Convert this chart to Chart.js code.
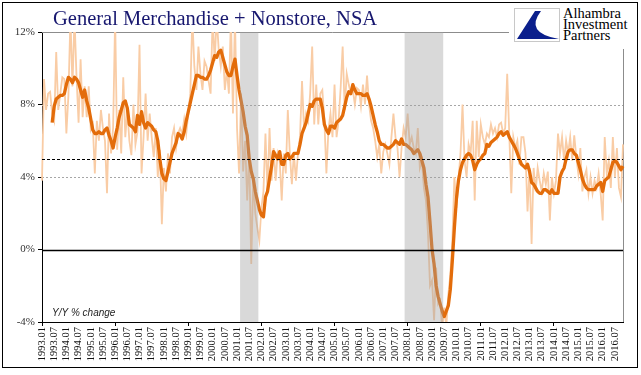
<!DOCTYPE html>
<html>
<head>
<meta charset="utf-8">
<script src="https://cdn.jsdelivr.net/npm/chart.js@4/dist/chart.umd.min.js"></script>
<style>
  body { margin: 0; background: #fff; }
  #wrap { position: relative; width: 641px; height: 375px; }
  #frame { position: absolute; left: 2px; top: 2px; width: 634px; height: 364px; border: 1px solid #000; pointer-events: none; }
  #title { position: absolute; left: 53px; top: 8px; font: 20.5px/20px "Liberation Serif", serif; color: #17176f; white-space: nowrap; }
  #logo { position: absolute; left: 509px; top: 4px; width: 126px; height: 45px; background: #fff; }
  #logo svg { position: absolute; left: 5px; top: 4px; }
  #logo .txt { position: absolute; left: 54px; top: 4px; font: 14.5px/11px "Liberation Serif", serif; color: #000; }
</style>
</head>
<body>
<div id="wrap">
  <canvas id="c" width="641" height="375"></canvas>
  <div id="title">General Merchandise + Nonstore, NSA</div>
  <div id="logo">
    <svg width="46" height="34" viewBox="0 0 46 34">
      <rect x="0.5" y="0.5" width="45" height="33" fill="#fff" stroke="#c8c8c8"/>
      <path d="M3 31 L21 3 L27 3 Q10 25 45 31 Z" fill="#0b1f8c"/>
    </svg>
    <div class="txt">Alhambra<br>Investment<br>Partners</div>
  </div>
  <div id="frame"></div>
</div>
<script>
// monthly, 1993.01 .. 2016.11
const firstYear = 1993;
const monthCount = 287;

// y/y % change, one row per year
const yoy = [
  3.8, 9.4, 7.7, 8.6, 8.7, 7.5, 7.1, 10.9, 7.7, 8.6, 9.5, 9.4,
  6.4, 8.5, 12.8, 9.0, 12.8, 9.5, 7.0, 10.5, 7.3, 9.0, 7.3, 9.0,
  6.6, 6.9, 4.2, 7.1, 6.0, 7.7, 6.7, 6.0, 3.1, 7.5, 5.3, 6.7,
  12.8, 5.5, 7.7, 5.3, 9.5, 6.2, 7.7, 6.0, 5.2, 8.0, 5.8, 6.5,
  11.3, 4.2, 6.2, 8.6, 6.0, 7.5, 6.2, 5.1, 6.7, 4.0, 5.5, 1.4,
  4.5, 3.2, 5.3, 4.2, 6.2, 6.7, 5.6, 6.4, 6.7, 6.4, 7.2, 6.4,
  7.5, 8.6, 12.8, 10.1, 8.8, 11.2, 9.7, 8.8, 10.4, 10.1, 9.3, 8.6,
  12.8, 10.4, 12.8, 11.0, 10.1, 11.2, 8.8, 9.9, 8.6, 12.8, 7.5, 12.8,
  6.7, 4.2, 8.6, 4.3, 6.0, 2.7, 5.3, -0.8, 4.0, 2.0, 1.2, 0.5,
  2.3, 3.2, 6.4, 3.1, 6.7, 3.8, 5.6, 3.8, 5.3, 4.9, 2.7, 5.3,
  4.2, 7.7, 5.3, 3.6, 5.3, 3.8, 5.3, 6.2, 9.3, 6.6, 7.5, 7.1,
  8.6, 11.2, 6.9, 9.1, 6.9, 8.6, 8.8, 7.1, 4.2, 6.6, 7.5, 6.2,
  9.1, 6.2, 7.1, 8.9, 11.2, 7.7, 9.7, 9.1, 8.6, 8.8, 8.0, 8.9,
  8.8, 7.9, 9.1, 8.0, 9.6, 8.0, 7.1, 6.7, 6.0, 5.1, 5.8, 4.2,
  5.4, 5.8, 5.3, 4.7, 6.2, 7.5, 6.2, 5.6, 4.0, 5.6, 6.7, 6.2,
  7.5, 5.8, 6.2, 5.6, 5.3, 6.7, 4.5, 4.9, 3.4, 2.7, 0.9, -2.0,
  -1.7, -3.9, -1.0, -3.0, -2.8, -4.4, -3.2, -4.3, -2.5, -1.4, 0.5, 4.0,
  2.3, 3.8, 5.3, 8.0, 4.9, 4.0, 5.8, 5.3, 7.1, 2.7, 7.1, 5.1,
  6.9, 6.2, 5.8, 6.4, 6.2, 6.9, 6.4, 6.7, 6.2, 6.9, 7.0, 6.4,
  6.7, 9.7, 6.4, 3.1, 6.2, 5.6, 6.0, 4.7, 6.2, 6.2, 5.3, 2.1,
  4.5, 0.3, 4.5, 3.2, 4.5, 3.8, 3.2, 4.2, 3.6, 4.3, 1.6, 4.0,
  3.1, 3.8, 6.4, 5.3, 6.2, 4.9, 6.0, 5.3, 6.2, 4.9, 6.3, 5.1,
  4.2, 5.6, 3.2, 4.0, 4.4, 3.1, 4.0, 3.1, 3.8, 3.4, 4.2, 3.1,
  1.6, 6.2, 4.2, 4.9, 3.4, 6.2, 4.0, 5.6, 3.4, 2.9, 5.8
];

// smoothed line
const avg = [
  null, null, null, null, null, 7.0, 7.9, 8.3, 8.4, 8.5, 8.5, 8.6,
  9.1, 9.5, 9.4, 9.2, 9.5, 9.4, 9.2, 8.8, 8.4, 8.8, 8.2, 7.8,
  7.2, 6.6, 6.4, 6.4, 6.5, 6.4, 6.4, 6.6, 6.7, 6.3, 6.0, 5.6,
  6.2, 6.7, 7.3, 7.7, 8.1, 8.2, 7.8, 6.9, 6.8, 6.7, 6.5, 7.4,
  6.9, 7.6, 7.0, 6.7, 7.0, 6.9, 6.8, 6.6, 6.5, 6.0, 5.0, 4.2,
  3.9, 3.8, 4.3, 4.8, 5.3, 5.6, 5.9, 6.4, 6.3, 6.1, 6.5, 7.1,
  7.6, 8.1, 8.6, 9.1, 9.6, 9.6, 9.5, 9.5, 9.4, 9.4, 9.6, 9.9,
  10.3, 10.7, 10.6, 10.9, 11.0, 10.6, 10.2, 9.8, 9.6, 9.6, 10.1, 10.5,
  9.6, 8.8, 8.2, 7.6, 6.8, 6.3, 5.0, 4.3, 3.9, 3.2, 2.7, 2.2,
  1.9, 1.8, 2.9, 3.2, 3.9, 4.6, 5.4, 5.2, 5.0, 5.4, 4.7, 4.7,
  5.2, 5.3, 5.0, 5.1, 5.3, 5.3, 5.3, 5.8, 6.4, 6.7, 7.0, 7.5,
  8.0, 7.9, 8.2, 8.3, 8.3, 8.3, 7.8, 6.9, 6.6, 6.4, 6.8, 6.8,
  6.7, 7.0, 7.1, 7.2, 7.4, 7.9, 8.4, 8.7, 8.6, 9.1, 8.8, 8.6,
  8.6, 8.6, 8.5, 8.5, 8.6, 8.3, 7.9, 7.4, 6.9, 6.5, 6.0, 5.8,
  5.8, 5.7, 5.6, 5.6, 5.7, 5.8, 6.0, 5.9, 5.8, 6.1, 5.8, 5.8,
  5.7, 5.6, 5.5, 5.3, 5.4, 5.5, 5.3, 4.9, 4.5, 3.6, 2.9, 1.5,
  0.0, -0.8, -2.0, -2.6, -3.0, -3.4, -3.7, -3.4, -3.1, -2.2, -0.6, 1.2,
  2.8, 3.8, 4.4, 4.8, 5.0, 5.2, 5.3, 5.2, 4.9, 4.4, 4.7, 4.9,
  5.0, 5.2, 5.3, 5.8, 5.7, 5.9, 6.0, 6.1, 6.2, 6.4, 6.5, 6.3,
  6.4, 6.5, 6.2, 6.0, 5.8, 5.6, 5.3, 5.0, 4.7, 4.6, 4.5, 4.7,
  4.3, 3.7, 3.6, 3.4, 3.2, 3.1, 3.1, 3.3, 3.3, 3.2, 3.1, 3.3,
  3.1, 3.1, 3.1, 4.0, 4.3, 4.5, 5.0, 5.4, 5.5, 5.5, 5.3, 5.2,
  4.8, 4.4, 3.9, 3.6, 3.4, 3.3, 3.3, 3.3, 3.3, 3.5, 3.6, 3.7,
  3.2, 3.8, 3.9, 4.0, 4.4, 4.8, 4.9, 4.8, 4.6, 4.4, 4.6
];

const recessions = [['2001.03', '2001.11'], ['2007.12', '2009.06']];
const dashedGrid = [4, 8];
const yTicks = [-4, 0, 4, 8, 12];
const refLine = 5;

let months = [];
for (let k = 0; k < monthCount; k++) {
  let y = firstYear + Math.floor(k / 12);
  let m = k % 12 + 1;
  months.push(y + '.' + (m < 10 ? '0' + m : m));
}

const decor = {
  id: 'decor',
  beforeDatasetsDraw(chart) {
    const {ctx, chartArea: a, scales: {y}} = chart;
    ctx.save();
    ctx.lineWidth = 1;
    ctx.strokeStyle = '#a6a6a6';
    ctx.setLineDash([2, 2]);
    dashedGrid.forEach(v => {
      let py = Math.round(y.getPixelForValue(v)) + 0.5;
      ctx.beginPath(); ctx.moveTo(a.left, py); ctx.lineTo(a.right, py); ctx.stroke();
    });
    ctx.setLineDash([]);
    ctx.strokeStyle = '#8c8c8c';
    let top = Math.round(y.getPixelForValue(yTicks[yTicks.length - 1])) + 0.5;
    ctx.beginPath(); ctx.moveTo(a.left, top); ctx.lineTo(a.right + 0.5, top); ctx.lineTo(a.right + 0.5, a.bottom); ctx.stroke();
    ctx.restore();
  },
  afterDatasetsDraw(chart) {
    const {ctx, chartArea: a, scales: {x, y}} = chart;
    ctx.save();
    ctx.fillStyle = 'rgba(160,160,160,0.4)';
    recessions.forEach(([s, e]) => {
      let x0 = x.getPixelForValue(months.indexOf(s) - 0.5);
      let x1 = x.getPixelForValue(months.indexOf(e) + 0.5);
      ctx.fillRect(x0, a.top, x1 - x0, a.bottom - a.top);
    });
    ctx.strokeStyle = '#000';
    ctx.lineWidth = 1.3;
    let zero = Math.round(y.getPixelForValue(0)) + 0.5;
    ctx.beginPath(); ctx.moveTo(a.left, zero); ctx.lineTo(a.right, zero); ctx.stroke();
    ctx.lineWidth = 1;
    ctx.setLineDash([3, 2]);
    let five = Math.round(y.getPixelForValue(refLine)) + 0.5;
    ctx.beginPath(); ctx.moveTo(a.left, five); ctx.lineTo(a.right, five); ctx.stroke();
    ctx.setLineDash([]);
    ctx.fillStyle = '#222';
    ctx.font = 'italic 10px "Liberation Sans", sans-serif';
    ctx.textBaseline = 'alphabetic';
    ctx.fillText('Y/Y % change', a.left + 10, a.bottom - 6);
    ctx.restore();
  }
};

new Chart(document.getElementById('c'), {
  type: 'line',
  data: {
    labels: months,
    datasets: [
      {
        data: avg,
        borderColor: '#e36c0a',
        borderWidth: 3.3,
        pointRadius: 0,
        tension: 0,
        borderJoinStyle: 'round'
      },
      {
        data: yoy,
        borderColor: '#f9cca5',
        borderWidth: 1.8,
        pointRadius: 0,
        tension: 0
      }
    ]
  },
  options: {
    responsive: false,
    animation: false,
    events: [],
    layout: { padding: { top: 32, right: 18, left: 0, bottom: 0 } },
    plugins: { legend: { display: false }, tooltip: { enabled: false } },
    scales: {
      x: {
        offset: false,
        grid: {
          drawOnChartArea: false,
          tickLength: 4,
          color: c => (c.index % 6 === 0 ? '#000' : 'rgba(0,0,0,0)')
        },
        border: { color: '#000', width: 1 },
        ticks: {
          autoSkip: false,
          maxRotation: 90,
          minRotation: 90,
          padding: 1,
          color: '#111',
          font: { family: '"Liberation Serif", serif', size: 10.5 },
          callback: function(v, i) { return i % 6 === 0 ? this.getLabelForValue(v) : null; }
        },
        afterFit(s) { s.height = 53; }
      },
      y: {
        min: -4,
        max: 12,
        afterBuildTicks(s) { s.ticks = yTicks.map(v => ({ value: v })); },
        grid: { drawOnChartArea: false, tickLength: 4, color: '#000' },
        border: { color: '#000', width: 1 },
        ticks: {
          padding: 3,
          color: '#333',
          font: { family: '"Liberation Serif", serif', size: 11 },
          callback: v => v + '%'
        },
        afterFit(s) { s.width = 42; }
      }
    }
  },
  plugins: [decor]
});
</script>
</body>
</html>
